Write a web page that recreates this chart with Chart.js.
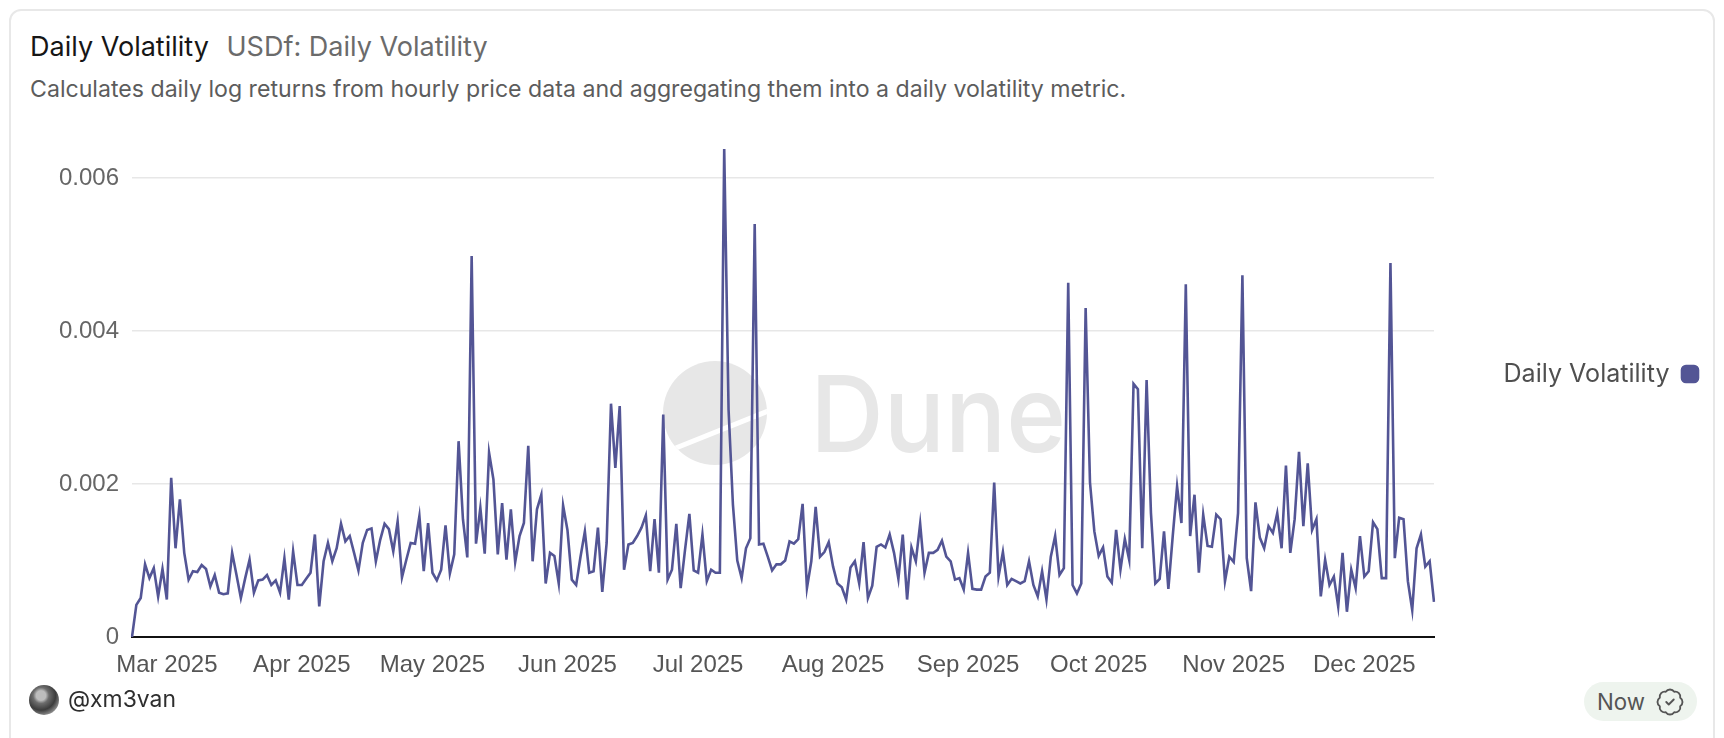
<!DOCTYPE html>
<html>
<head>
<meta charset="utf-8">
<script src="https://cdn.jsdelivr.net/npm/chart.js@4.4.1/dist/chart.umd.min.js"></script>
<style>
  html, body { margin: 0; padding: 0; background: #ffffff; width: 1724px; height: 738px; overflow: hidden; }
  #card { position: absolute; left: 9px; top: 9px; width: 1706px; height: 780px; border: 2px solid #e8e8e8; border-radius: 12px; background: #fff; box-sizing: border-box; }
  .t { position: absolute; white-space: nowrap; line-height: 1; font-family: Inter, "Noto Sans", sans-serif; }
  #title { color: #161616; }
  #subtitle { color: #6b6b6b; }
  #desc { color: #5c5c5c; }
  #user { color: #2e2e2e; }
  #chartBox { position: absolute; left: 0; top: 120px; width: 1724px; height: 567px; }
  #avatar { position: absolute; left: 29px; top: 685px; width: 30px; height: 30px; border-radius: 50%;
    background: radial-gradient(circle at 40% 35%, #bdbdbd 0 18%, #6d6d6d 30%, #3c3c3c 55%, #8a8a8a 75%, #4a4a4a 100%); }
  #badge { position: absolute; left: 1584px; top: 682px; width: 113px; height: 39px; border-radius: 20px; background: #eef4ee; }
  #now { color: #555; }
  #icon { position: absolute; left: 1655px; top: 687px; width: 30px; height: 30px; }
</style>
</head>
<body>
<div id="card"></div>
<div class="t" id="title">Daily Volatility</div>
<div class="t" id="subtitle">USDf: Daily Volatility</div>
<div class="t" id="desc">Calculates daily log returns from hourly price data and aggregating them into a daily volatility metric.</div>
<div id="chartBox"><canvas id="chart"></canvas></div>
<div id="avatar"></div>
<div class="t" id="user">@xm3van</div>
<div id="badge"></div>
<div class="t" id="now">Now</div>
<svg id="icon" viewBox="0 0 24 24" fill="none" stroke="#555" stroke-width="1.5" stroke-linecap="round" stroke-linejoin="round">
  <path d="M3.85 8.62a4 4 0 0 1 4.78-4.77 4 4 0 0 1 6.74 0 4 4 0 0 1 4.78 4.78 4 4 0 0 1 0 6.74 4 4 0 0 1-4.77 4.78 4 4 0 0 1-6.75 0 4 4 0 0 1-4.78-4.77 4 4 0 0 1 0-6.76Z"/>
  <path d="m9 12 2 2 4-4"/>
</svg>
<script>
// ---------- DATA ----------
const seriesLabel = 'Daily Volatility';
const startDate = '2025-02-21';
const dailyVolatility = [
  0, 0.00042, 0.00051, 0.00095, 0.00077, 0.00090, 0.00053, 0.00089, 0.00049, 0.00208,
  0.00116, 0.00180, 0.00110, 0.00075, 0.00086, 0.00085, 0.00094, 0.00089, 0.00066, 0.00081,
  0.00058, 0.00056, 0.00057, 0.00110, 0.00081, 0.00051, 0.00077, 0.00101, 0.00058, 0.00074,
  0.00075, 0.00081, 0.00068, 0.00074, 0.00058, 0.00103, 0.00049, 0.00112, 0.00068, 0.00068,
  0.00076, 0.00084, 0.00134, 0.00040, 0.00099, 0.00123, 0.00099, 0.00116, 0.00148, 0.00125,
  0.00132, 0.00110, 0.00087, 0.00123, 0.00140, 0.00142, 0.00099, 0.00127, 0.00148, 0.00141,
  0.00112, 0.00151, 0.00078, 0.00101, 0.00123, 0.00122, 0.00158, 0.00086, 0.00149, 0.00084,
  0.00074, 0.00088, 0.00146, 0.00083, 0.00108, 0.00256, 0.00154, 0.00104, 0.00498, 0.00122,
  0.00169, 0.00109, 0.00241, 0.00206, 0.00108, 0.00175, 0.00101, 0.00167, 0.00098, 0.00132,
  0.00149, 0.00250, 0.00099, 0.00167, 0.00186, 0.00070, 0.00110, 0.00106, 0.00070, 0.00172,
  0.00140, 0.00075, 0.00068, 0.00105, 0.00138, 0.00084, 0.00086, 0.00143, 0.00059, 0.00123,
  0.00305, 0.00221, 0.00302, 0.00088, 0.00121, 0.00123, 0.00132, 0.00143, 0.00159, 0.00086,
  0.00154, 0.00084, 0.00291, 0.00075, 0.00088, 0.00148, 0.00064, 0.00114, 0.00161, 0.00087,
  0.00084, 0.00134, 0.00073, 0.00088, 0.00084, 0.00084, 0.00638, 0.00297, 0.00173, 0.00100,
  0.00077, 0.00116, 0.00129, 0.00540, 0.00121, 0.00122, 0.00105, 0.00087, 0.00095, 0.00095,
  0.00100, 0.00125, 0.00122, 0.00128, 0.00174, 0.00064, 0.00099, 0.00170, 0.00105, 0.00111,
  0.00124, 0.00092, 0.00070, 0.00065, 0.00049, 0.00091, 0.00099, 0.00070, 0.00124, 0.00051,
  0.00067, 0.00118, 0.00121, 0.00117, 0.00134, 0.00110, 0.00076, 0.00134, 0.00049, 0.00117,
  0.00099, 0.00148, 0.00084, 0.00110, 0.00110, 0.00114, 0.00126, 0.00105, 0.00099, 0.00075,
  0.00077, 0.00062, 0.00110, 0.00063, 0.00062, 0.00062, 0.00079, 0.00084, 0.00202, 0.00079,
  0.00111, 0.00068, 0.00076, 0.00073, 0.00070, 0.00073, 0.00099, 0.00068, 0.00053, 0.00086,
  0.00049, 0.00105, 0.00132, 0.00081, 0.00090, 0.00463, 0.00068, 0.00057, 0.00070, 0.00430,
  0.00202, 0.00138, 0.00106, 0.00117, 0.00079, 0.00071, 0.00140, 0.00088, 0.00128, 0.00101,
  0.00331, 0.00324, 0.00116, 0.00336, 0.00162, 0.00070, 0.00076, 0.00138, 0.00063, 0.00132,
  0.00197, 0.00149, 0.00461, 0.00132, 0.00186, 0.00084, 0.00160, 0.00119, 0.00118, 0.00160,
  0.00154, 0.00073, 0.00105, 0.00098, 0.00162, 0.00473, 0.00103, 0.00060, 0.00176, 0.00130,
  0.00116, 0.00145, 0.00136, 0.00162, 0.00116, 0.00224, 0.00110, 0.00154, 0.00242, 0.00145,
  0.00227, 0.00140, 0.00154, 0.00053, 0.00101, 0.00068, 0.00079, 0.00040, 0.00110, 0.00033,
  0.00088, 0.00064, 0.00132, 0.00079, 0.00086, 0.00150, 0.00141, 0.00077, 0.00077, 0.00489,
  0.00103, 0.00156, 0.00154, 0.00073, 0.00035, 0.00116, 0.00134, 0.00092, 0.00099, 0.00046
];
const monthStarts = ['2025-03-01','2025-04-01','2025-05-01','2025-06-01','2025-07-01','2025-08-01','2025-09-01','2025-10-01','2025-11-01','2025-12-01'];
const monthTickLabels = ['Mar 2025','Apr 2025','May 2025','Jun 2025','Jul 2025','Aug 2025','Sep 2025','Oct 2025','Nov 2025','Dec 2025'];
const yTickValues = [0, 0.002, 0.004, 0.006];

// ---------- derived categories (one per day) ----------
const [sy, sm, sd] = startDate.split('-').map(Number);
const dates = dailyVolatility.map((_, i) => new Date(Date.UTC(sy, sm - 1, sd + i)).toISOString().slice(0, 10));

// ---------- text layout helpers ----------
const mctx = document.createElement('canvas').getContext('2d');
function fitSize(text, family, target, weight) {
  mctx.font = (weight || '400') + ' 100px ' + family;
  return 100 * target / mctx.measureText(text).width;
}
function place(id, size, left, baseline) {
  const el = document.getElementById(id);
  el.style.fontSize = size + 'px';
  el.style.left = left + 'px';
  el.style.top = (baseline - 0.8635 * size) + 'px';
}
const titleSize = fitSize('Daily Volatility', 'Inter', 179);
place('title', titleSize, 30, 56);
place('subtitle', titleSize, 226.5, 56);
place('desc', fitSize(document.getElementById('desc').textContent, 'Inter', 1097), 30, 98);
place('user', fitSize('@xm3van', 'Inter', 108), 68, 708);
place('now', fitSize('Now', 'Inter', 48), 1597, 710);
const legendSize = fitSize(seriesLabel, 'Inter', 166);

const LINE = '#535595';
const CANVAS_TOP = 120;
let padAxisWidth = 58;
let legendGap = 188;

const watermark = {
  id: 'duneWatermark',
  beforeDatasetsDraw(chart) {
    const ctx = chart.ctx;
    const oy = CANVAS_TOP;
    ctx.save();
    ctx.fillStyle = '#e7e7e7';
    ctx.beginPath();
    ctx.arc(715, 413 - oy, 52, 0, Math.PI * 2);
    ctx.fill();
    ctx.clip();
    ctx.strokeStyle = '#ffffff';
    ctx.lineWidth = 5;
    ctx.beginPath();
    ctx.moveTo(655, 456.3 - oy);
    ctx.lineTo(775, 408.3 - oy);
    ctx.stroke();
    ctx.restore();
    ctx.save();
    const size = 77 / 0.727;
    ctx.font = '500 ' + size + 'px Inter';
    const m = ctx.measureText('Dune');
    const ink = m.actualBoundingBoxLeft + m.actualBoundingBoxRight;
    const sx = 244 / ink;
    ctx.translate(818, 452 - oy);
    ctx.scale(sx, 1);
    ctx.fillStyle = '#e7e7e7';
    ctx.textBaseline = 'alphabetic';
    ctx.fillText('Dune', m.actualBoundingBoxLeft, 0);
    ctx.restore();
  }
};

const chart = new Chart(document.getElementById('chart'), {
  type: 'line',
  data: {
    labels: dates,
    datasets: [{
      label: seriesLabel,
      data: dailyVolatility,
      borderColor: LINE,
      backgroundColor: LINE,
      borderWidth: 2.6,
      pointRadius: 0,
      pointHoverRadius: 0,
      tension: 0,
      fill: false
    }]
  },
  options: {
    responsive: true,
    maintainAspectRatio: false,
    animation: false,
    events: [],
    layout: { padding: { top: 29, right: 16, bottom: 0, left: 0 } },
    scales: {
      x: {
        type: 'category',
        offset: false,
        grid: { display: false, drawTicks: false },
        border: { display: true, color: '#111111', width: 2 },
        afterFit: (s) => { s.height = 50; },
        ticks: {
          autoSkip: false, maxRotation: 0, minRotation: 0, padding: 14,
          color: '#555555',
          font: { family: 'Liberation Sans', size: 24 },
          callback: (value, index) => {
            const k = monthStarts.indexOf(dates[index]);
            return k >= 0 ? monthTickLabels[k] : null;
          }
        }
      },
      y: {
        min: 0,
        max: Math.max(...dailyVolatility),
        afterBuildTicks: (s) => { s.ticks = yTickValues.map(v => ({ value: v })); },
        afterFit: (s) => { s.width = 132; },
        grid: {
          drawTicks: false,
          lineWidth: 1.5,
          color: (c) => (c.tick && c.tick.value === 0) ? 'rgba(0,0,0,0)' : '#e7e7e7'
        },
        border: { display: false },
        ticks: {
          padding: 13,
          color: '#666666',
          font: { family: 'Liberation Sans', size: 24 },
          callback: (v) => v === 0 ? '0' : Number(v).toFixed(3)
        }
      },
      pad: {
        type: 'linear',
        position: 'right',
        display: true,
        grid: { display: false, drawTicks: false },
        border: { display: false },
        ticks: { display: false },
        afterFit: (s) => { s.width = padAxisWidth; }
      }
    },
    plugins: {
      tooltip: { enabled: false },
      legend: {
        display: true,
        position: 'right',
        align: 'start',
        rtl: true,
        title: { display: true, text: '', font: { size: 10 }, padding: { top: 0, bottom: legendGap } },
        labels: {
          boxWidth: 16,
          boxHeight: 16,
          useBorderRadius: true,
          borderRadius: 4,
          padding: 10,
          color: '#4f4f4f',
          font: { family: 'Inter', size: legendSize }
        }
      }
    }
  },
  plugins: [watermark]
});

// fine-tune: chart area right edge at 1434, legend text centred at y=374 (page)
padAxisWidth += chart.chartArea.right - 1434;
chart.update('none');
const hb = chart.legend.legendHitBoxes[0];
if (hb) {
  const centre = hb.top + hb.height / 2;
  legendGap += (374 - CANVAS_TOP) - centre;
  chart.options.plugins.legend.title.padding.bottom = legendGap;
  chart.update('none');
}
</script>
</body>
</html>
